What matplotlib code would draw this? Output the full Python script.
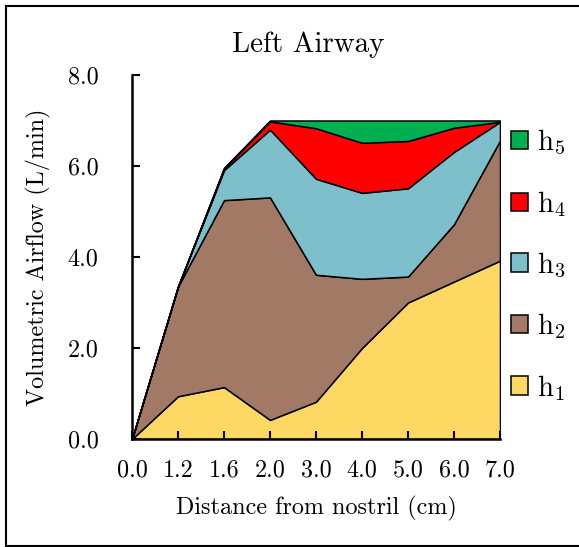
import matplotlib
matplotlib.use('Agg')
import matplotlib.pyplot as plt
from matplotlib.lines import Line2D
from matplotlib.patches import Patch

plt.rcParams['font.family'] = ['cmr10', 'DejaVu Serif']
plt.rcParams['mathtext.fontset'] = 'cm'
plt.rcParams['axes.unicode_minus'] = False

# distance from nostril (cm), plotted as evenly spaced categories
distances = ['0.0', '1.2', '1.6', '2.0', '3.0', '4.0', '5.0', '6.0', '7.0']

# airflow share per layer (L/min), stacked h1 -> h5
h1 = [0.0, 0.94, 1.14, 0.42, 0.82, 2.00, 3.00, 3.46, 3.92]
h2 = [0.0, 2.41, 4.11, 4.89, 2.79, 1.52, 0.57, 1.26, 2.64]
h3 = [0.0, 0.00, 0.66, 1.49, 2.11, 1.89, 1.94, 1.59, 0.41]
h4 = [0.0, 0.00, 0.03, 0.18, 1.11, 1.10, 1.04, 0.53, 0.00]
h5 = [0.0, 0.00, 0.02, 0.02, 0.17, 0.49, 0.45, 0.16, 0.03]

layer_names  = ['h$_1$', 'h$_2$', 'h$_3$', 'h$_4$', 'h$_5$']
layer_colors = ['#FDD862', '#A27965', '#7DBFCB', '#FF0000', '#00B050']

fig = plt.figure(figsize=(5.79, 5.47), dpi=100)
ax = fig.add_axes([132 / 579, 1 - 439 / 547, 368 / 579, 364 / 547])

x = list(range(len(distances)))
ax.stackplot(x, h1, h2, h3, h4, h5, colors=layer_colors,
             edgecolor='black', linewidth=1.1)

ax.set_xlim(0, len(distances) - 1)
ax.set_ylim(0, 8)
ax.set_xticks(x)
ax.set_xticklabels(distances)
ax.set_yticks([0, 2, 4, 6, 8])
ax.set_yticklabels([f'{v:.1f}' for v in [0, 2, 4, 6, 8]])

for side in ['top', 'right']:
    ax.spines[side].set_visible(False)
for side in ['left', 'bottom']:
    ax.spines[side].set_linewidth(1.8)
ax.tick_params(direction='in', length=6, width=1.5, labelsize=17.4)
ax.tick_params(axis='y', pad=24)
ax.tick_params(axis='x', pad=15)

ax.set_xlabel('Distance from nostril (cm)', fontsize=17.4, labelpad=10)
ax.set_ylabel('Volumetric Airflow (L/min)', fontsize=17.4, labelpad=12)
fig.text(308 / 579, 1 - 45 / 547, 'Left Airway', fontsize=20.9,
         ha='center', va='center')

handles = [Patch(facecolor=c, edgecolor='black', linewidth=1.1)
           for c in layer_colors]
ax.legend(handles[::-1], layer_names[::-1], loc='upper left',
          bbox_to_anchor=(511 / 579, 1 - 128 / 547),
          bbox_transform=fig.transFigure, frameon=False, fontsize=20.7,
          handlelength=0.6, handleheight=0.6, handletextpad=0.3,
          labelspacing=1.1, borderpad=0, borderaxespad=0)

# outer frame: top, left and bottom edges (right edge is cut off)
x0, x1 = 5.5 / 579, 1.0
y0, y1 = 1 - 545.5 / 547, 1 - 5.5 / 547
for xs, ys in [([x0, x1], [y1, y1]), ([x0, x0], [y0, y1]), ([x0, x1], [y0, y0])]:
    fig.add_artist(Line2D(xs, ys, transform=fig.transFigure,
                          color='black', linewidth=1.5))

fig.savefig('out.png', dpi=100)
